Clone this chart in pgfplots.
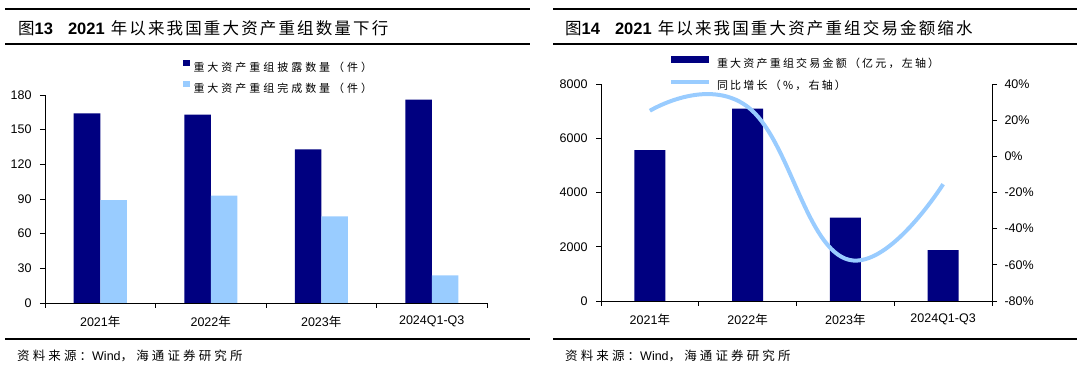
\documentclass[border=0pt]{standalone}
\usepackage{pgfplots}
\pgfplotsset{compat=1.18}
\usepackage{fontspec}
\setmainfont{Liberation Sans}
\newfontfamily\cjkX{Noto Sans CJK SC}
\newfontfamily\cjkT[LetterSpace=13]{Noto Sans CJK SC}
\newfontfamily\cjkL[LetterSpace=27]{Noto Sans CJK SC}
\newfontfamily\cjkR[LetterSpace=20]{Noto Sans CJK SC}
\newfontfamily\cjkS[LetterSpace=25]{Noto Sans CJK SC}
\definecolor{navy}{RGB}{0,0,128}
\definecolor{lblue}{RGB}{153,204,255}
\pgfplotsset{
  base/.style={
    scale only axis,
    axis x line*=bottom,
    xmin=-0.5, xmax=3.5,
    xtick={-0.5,0.5,1.5,2.5,3.5},
    xticklabels={2021{\cjkX 年},2022{\cjkX 年},2023{\cjkX 年},2024Q1-Q3,{}},
    tick align=outside,
    major tick length=5pt,
    axis line style={-, line width=0.8pt, black},
    tick style={line width=0.8pt, black},
    tick label style={font=\fontsize{12.5}{12.5}\selectfont},
    yticklabel style={xshift=-5pt},
    /pgf/number format/assume math mode=true,
    /pgf/number format/1000 sep={},
    legend cell align=left,
    legend style={draw=none, fill=none, inner sep=0pt, outer sep=0pt,
      nodes={inner sep=0pt, text height=9.5pt, text depth=1.5pt}},
  }
}
\begin{document}
\begin{tikzpicture}[x=1pt,y=1pt]
\useasboundingbox (0,0) rectangle (1080,369);
% frame lines
\draw[line width=1.3pt] (5,360) -- (530,360);
\draw[line width=1.3pt] (5,325) -- (530,325);
\draw[line width=1.3pt] (5,30) -- (530,30);
\draw[line width=1.3pt] (553,360) -- (1077,360);
\draw[line width=1.3pt] (553,325) -- (1077,325);
\draw[line width=1.3pt] (553,30) -- (1077,30);
% titles
\node[anchor=base west, inner sep=0pt] at (18,334.5) {\fontsize{16.5}{16.5}\selectfont{\cjkX 图}\textbf{13}\hspace{15pt}\textbf{2021}\hspace{6pt}{\cjkT 年以来我国重大资产重组数量下行}};
\node[anchor=base west, inner sep=0pt] at (565,334.5) {\fontsize{16.5}{16.5}\selectfont{\cjkX 图}\textbf{14}\hspace{15pt}\textbf{2021}\hspace{6pt}{\cjkT 年以来我国重大资产重组交易金额缩水}};
% sources
\node[anchor=base west, inner sep=0pt] at (17,8.5) {\fontsize{12.5}{12.5}\selectfont{\cjkS 资料来源：}Wind{\cjkS ，海通证券研究所}};
\node[anchor=base west, inner sep=0pt] at (565,8.5) {\fontsize{12.5}{12.5}\selectfont{\cjkS 资料来源：}Wind{\cjkS ，海通证券研究所}};

% left chart
\begin{axis}[base,
  at={(45pt,66pt)}, anchor=south west,
  width=442pt, height=208pt,
  axis y line*=left,
  ymin=0, ymax=180, ytick={0,30,...,180},
  xticklabel style={xshift=55.25pt, yshift=-4pt},
  ybar=0pt, bar width=26.5pt,
  legend style={font=\fontsize{11}{11}\selectfont\cjkL,
    at={(axis description cs:0.312,1.17)}, anchor=north west, row sep=8pt,
    /tikz/every odd column/.append style={column sep=4pt}},
  legend image code/.code={\fill[#1] (0pt,0.9pt) rectangle (6.6pt,7.5pt);},
]
\addplot[fill=navy, draw=none] coordinates {(0,164) (1,163) (2,133) (3,176)};
\addlegendentry{重大资产重组披露数量（件）}
\addplot[fill=lblue, draw=none] coordinates {(0,89) (1,93) (2,75) (3,24)};
\addlegendentry{重大资产重组完成数量（件）}
\end{axis}

% right chart: bars
\begin{axis}[base,
  at={(601pt,68pt)}, anchor=south west,
  width=391pt, height=217pt,
  axis y line*=left,
  ymin=0, ymax=8000, ytick={0,2000,...,8000},
  xticklabel style={xshift=48.875pt, yshift=-4pt},
  ybar=0pt, bar width=31pt,
]
\addplot[fill=navy, draw=none] coordinates {(0,5563) (1,7089) (2,3077) (3,1871)};
\end{axis}
% right chart: line
\begin{axis}[
  scale only axis,
  at={(601pt,68pt)}, anchor=south west,
  width=391pt, height=217pt,
  xmin=-0.5, xmax=3.5,
  axis x line=none,
  axis y line*=right,
  ymin=-80, ymax=40, ytick={-80,-60,...,40},
  yticklabel={\pgfmathprintnumber{\tick}\%},
  yticklabel style={xshift=4pt},
  tick align=outside, major tick length=5pt,
  axis line style={-, line width=0.8pt, black},
  tick style={line width=0.8pt, black},
  tick label style={font=\fontsize{12.5}{12.5}\selectfont},
  /pgf/number format/assume math mode=true,
  legend cell align=left,
  legend style={draw=none, fill=none, inner sep=0pt, outer sep=0pt,
      font=\fontsize{11}{11}\selectfont\cjkR,
      nodes={inner sep=0pt, text height=9.5pt, text depth=1.5pt},
      at={(axis description cs:0.174,1.13)}, anchor=north west, row sep=11pt,
      /tikz/every odd column/.append style={column sep=6pt}},
]
\addlegendimage{legend image code/.code={\fill[navy] (0pt,1.2pt) rectangle (37pt,7.2pt);}}
\addlegendentry{重大资产重组交易金额（亿元，左轴）}
\addplot[lblue, line width=4pt, smooth, tension=0.75,
  legend image code/.code={\draw[lblue, line width=4pt] (0pt,4.2pt) -- (38pt,4.2pt);}]
  coordinates {(0,25.2) (1,27.4) (2,-56.6) (3,-15.4)};
\addlegendentry{同比增长（\%，右轴）}
\end{axis}
\end{tikzpicture}
\end{document}
